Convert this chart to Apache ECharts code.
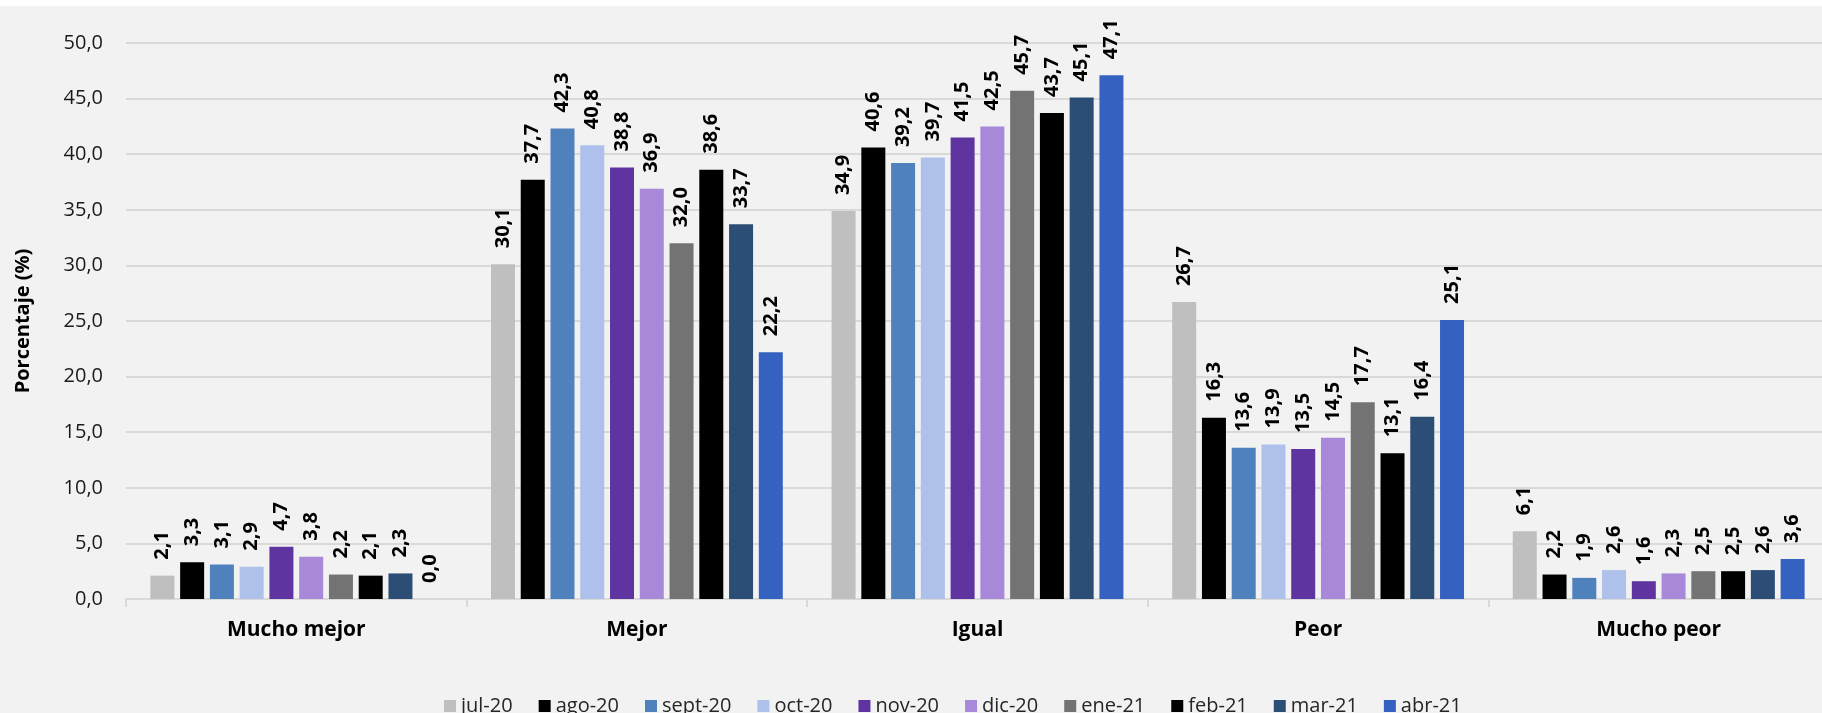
<!DOCTYPE html>
<html>
<head>
<meta charset="utf-8">
<script src="https://cdn.jsdelivr.net/npm/echarts@6/dist/echarts.min.js"></script>
<style>
html,body{margin:0;padding:0;background:#ffffff;}
#chart{width:1822px;height:713px;}
</style>
</head>
<body>
<div id="chart"></div>
<script>
const categories = ['Mucho mejor', 'Mejor', 'Igual', 'Peor', 'Mucho peor'];
const seriesNames = ['jul-20', 'ago-20', 'sept-20', 'oct-20', 'nov-20', 'dic-20', 'ene-21', 'feb-21', 'mar-21', 'abr-21'];
const jul20  = [2.1, 30.1, 34.9, 26.7, 6.1];
const ago20  = [3.3, 37.7, 40.6, 16.3, 2.2];
const sept20 = [3.1, 42.3, 39.2, 13.6, 1.9];
const oct20  = [2.9, 40.8, 39.7, 13.9, 2.6];
const nov20  = [4.7, 38.8, 41.5, 13.5, 1.6];
const dic20  = [3.8, 36.9, 42.5, 14.5, 2.3];
const ene21  = [2.2, 32.0, 45.7, 17.7, 2.5];
const feb21  = [2.1, 38.6, 43.7, 13.1, 2.5];
const mar21  = [2.3, 33.7, 45.1, 16.4, 2.6];
const abr21  = [0.0, 22.2, 47.1, 25.1, 3.6];
const seriesData = [jul20, ago20, sept20, oct20, nov20, dic20, ene21, feb21, mar21, abr21];
const colors = ['#bfbfbf', '#000000', '#4f81bd', '#adc1ea', '#6034a0', '#a888d9', '#737373', '#000000', '#2c4d75', '#3562c1'];

const FONT = 'Open Sans';
const fmt = v => v.toFixed(1).replace('.', ',');

const chart = echarts.init(document.getElementById('chart'), null, {renderer: 'canvas'});

const series = seriesNames.map((name, i) => ({
  name: name,
  type: 'bar',
  data: seriesData[i],
  barWidth: 24,
  barGap: '24%',
  itemStyle: {color: colors[i]},
  label: {
    show: true,
    position: 'top',
    rotate: 90,
    align: 'left',
    verticalAlign: 'middle',
    distance: 16,
    color: '#000000',
    fontFamily: FONT,
    fontWeight: 'bold',
    fontSize: 20,
    formatter: p => fmt(p.value)
  }
}));

chart.setOption({
  backgroundColor: '#f2f2f2',
  animation: false,
  color: colors,
  graphic: [{
    type: 'rect',
    shape: {x: 0, y: 0, width: 1822, height: 6},
    style: {fill: '#ffffff'},
    silent: true
  }],
  grid: {
    left: 126,
    top: 43,
    width: 1703,
    height: 556,
    containLabel: false,
    outerBoundsMode: 'none'
  },
  legend: {
    data: seriesNames,
    left: 439,
    top: 691,
    itemWidth: 12,
    itemHeight: 12,
    itemGap: 26,
    icon: 'rect',
    textStyle: {fontFamily: FONT, fontSize: 20, color: '#262626'}
  },
  xAxis: {
    type: 'category',
    data: categories,
    axisLine: {show: true, lineStyle: {color: '#d9d9d9', width: 2}},
    axisTick: {show: true, length: 8, lineStyle: {color: '#d9d9d9', width: 2}},
    axisLabel: {
      margin: 21,
      fontFamily: FONT,
      fontWeight: 'bold',
      fontSize: 21,
      color: '#000000'
    }
  },
  yAxis: {
    type: 'value',
    min: 0,
    max: 50,
    interval: 5,
    name: 'Porcentaje (%)',
    nameLocation: 'middle',
    nameGap: 93,
    nameTextStyle: {fontFamily: FONT, fontWeight: 'bold', fontSize: 20, color: '#000000'},
    axisLine: {show: false},
    axisTick: {show: false},
    axisLabel: {
      margin: 23,
      fontFamily: FONT,
      fontSize: 20,
      color: '#1a1a1a',
      formatter: v => fmt(v)
    },
    splitLine: {show: true, lineStyle: {color: '#d9d9d9', width: 2}}
  },
  series: series
});
</script>
</body>
</html>
